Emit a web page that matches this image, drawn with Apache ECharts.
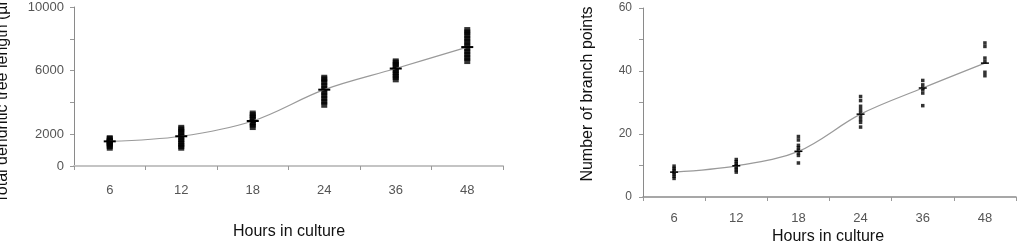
<!DOCTYPE html>
<html>
<head>
<meta charset="utf-8">
<script src="https://cdn.jsdelivr.net/npm/echarts@6/dist/echarts.min.js"></script>
<style>
  html, body { margin: 0; padding: 0; background: #fff; }
  #chart { width: 1028px; height: 246px; }
</style>
</head>
<body>
<div id="chart"></div>
<script>
// categories (hours in culture)
const hours = ['6', '12', '18', '24', '36', '48'];

// left panel: total dendritic tree length (µm), individual cells
const lengthPoints = [
  [1150, 1250, 1350, 1450, 1500, 1550, 1600, 1700, 1750],
  [1150, 1250, 1400, 1550, 1700, 1850, 2000, 2150, 2300, 2400],
  [2450, 2600, 2750, 2900, 3050, 3200, 3300],
  [3850, 4050, 4250, 4450, 4650, 4850, 5050, 5250, 5450, 5550],
  [5450, 5600, 5750, 5900, 6050, 6200, 6350, 6500, 6580],
  [6600, 6800, 7000, 7200, 7400, 7600, 7800, 8000, 8200, 8400, 8550]
];
const lengthMeans = [1550, 1870, 2830, 4800, 6130, 7480];

// right panel: number of branch points, individual cells
const branchPoints = [
  [5.9, 6.6, 7.3, 7.9, 8.5, 9.1, 9.8],
  [7.9, 8.6, 9.3, 9.9, 10.5, 11.2, 11.9],
  [19.2, 18.1, 16.4, 15.6, 14.8, 14.0, 13.2, 10.8],
  [31.9, 30.6, 28.8, 27.7, 26.7, 25.6, 24.6, 23.7, 22.2],
  [37.0, 35.6, 34.6, 34.1, 33.0, 29.0],
  [48.9, 47.8, 44.1, 43.0, 39.6, 38.5]
];
const branchMeans = [7.9, 9.9, 14.5, 26.3, 34.6, 42.5];

// y tick labels that are printed on the left axis
const lengthLabels = [0, 2000, 6000, 10000];

const toPairs = (groups) => {
  const out = [];
  groups.forEach((vals, i) => vals.forEach(v => out.push([hours[i], v])));
  return out;
};

const FONT = '"Liberation Sans", Arial, sans-serif';

var myChart = echarts.init(document.getElementById('chart'));
const option = {
  animation: false,
  textStyle: { fontFamily: FONT },
  grid: [
    { left: 74, right: 525, top: 7, bottom: 80 },
    { left: 643, right: 12, top: 8, bottom: 49 }
  ],
  xAxis: [
    {
      gridIndex: 0,
      type: 'category',
      data: hours,
      boundaryGap: true,
      axisLine: { lineStyle: { color: '#c4c4c4', width: 2 } },
      axisTick: { show: true, length: 4, lineStyle: { color: '#999' } },
      axisLabel: { color: '#555', fontSize: 13, margin: 18, fontFamily: FONT }
    },
    {
      gridIndex: 1,
      type: 'category',
      data: hours,
      boundaryGap: true,
      axisLine: { lineStyle: { color: '#8a8a8a', width: 1.5 } },
      axisTick: { show: true, length: 4, lineStyle: { color: '#999' } },
      axisLabel: { color: '#555', fontSize: 13, margin: 15, fontFamily: FONT }
    }
  ],
  yAxis: [
    {
      gridIndex: 0,
      type: 'value',
      min: 0,
      max: 10000,
      interval: 2000,
      splitLine: { show: false },
      axisLine: { show: true, lineStyle: { color: '#8a8a8a', width: 1 } },
      axisTick: { show: true, length: 4, lineStyle: { color: '#999' } },
      axisLabel: {
        color: '#555', fontSize: 13, margin: 10, fontFamily: FONT,
        formatter: (v) => lengthLabels.indexOf(v) >= 0 ? String(v) : ''
      }
    },
    {
      gridIndex: 1,
      type: 'value',
      min: 0,
      max: 60,
      interval: 10,
      splitLine: { show: false },
      axisLine: { show: true, lineStyle: { color: '#8a8a8a', width: 1 } },
      axisTick: { show: true, length: 4, lineStyle: { color: '#999' } },
      axisLabel: {
        color: '#555', fontSize: 12, margin: 11, fontFamily: FONT,
        formatter: (v) => v % 20 === 0 ? String(v) : ''
      }
    }
  ],
  graphic: [
    {
      type: 'text', x: 3, y: 95, rotation: Math.PI / 2,
      style: { text: 'Total dendritic tree length (µm)', fill: '#111', font: '16px ' + FONT, textAlign: 'center', textVerticalAlign: 'middle' }
    },
    {
      type: 'text', x: 289, y: 232,
      style: { text: 'Hours in culture', fill: '#111', font: '16px ' + FONT, textAlign: 'center', textVerticalAlign: 'middle' }
    },
    {
      type: 'text', x: 588, y: 94, rotation: Math.PI / 2,
      style: { text: 'Number of branch points', fill: '#111', font: '16px ' + FONT, textAlign: 'center', textVerticalAlign: 'middle' }
    },
    {
      type: 'text', x: 828, y: 237,
      style: { text: 'Hours in culture', fill: '#111', font: '16px ' + FONT, textAlign: 'center', textVerticalAlign: 'middle' }
    }
  ],
  series: [
    {
      name: 'length cells',
      type: 'scatter',
      xAxisIndex: 0, yAxisIndex: 0,
      symbol: 'rect',
      symbolSize: [6, 6],
      itemStyle: { color: '#000' },
      data: toPairs(lengthPoints)
    },
    {
      name: 'length mean',
      type: 'line',
      xAxisIndex: 0, yAxisIndex: 0,
      smooth: 0.35,
      symbol: 'rect',
      symbolSize: [12, 2],
      itemStyle: { color: '#000' },
      lineStyle: { color: '#9a9a9a', width: 1.2 },
      z: 3,
      data: lengthMeans
    },
    {
      name: 'branch cells',
      type: 'scatter',
      xAxisIndex: 1, yAxisIndex: 1,
      symbol: 'rect',
      symbolSize: [3.5, 3.5],
      itemStyle: { color: '#000' },
      data: toPairs(branchPoints)
    },
    {
      name: 'branch mean',
      type: 'line',
      xAxisIndex: 1, yAxisIndex: 1,
      smooth: 0.35,
      symbol: 'rect',
      symbolSize: [8, 1.5],
      itemStyle: { color: '#000' },
      lineStyle: { color: '#9a9a9a', width: 1.2 },
      z: 3,
      data: branchMeans
    }
  ]
};

myChart.setOption(option);
</script>
</body>
</html>
